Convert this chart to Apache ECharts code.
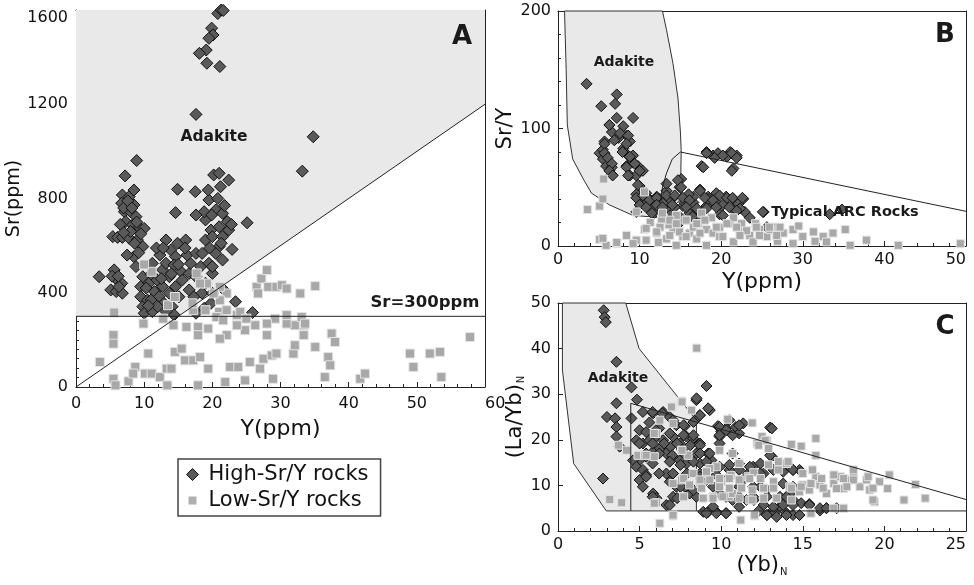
<!DOCTYPE html>
<html><head><meta charset="utf-8">
<script src="https://cdn.jsdelivr.net/npm/echarts@6/dist/echarts.min.js"></script>
<style>html,body{margin:0;padding:0;background:#fff}#c{width:974px;height:585px}</style>
</head><body><div id="c"></div>
<script>
// ---------- Panel A: Sr (ppm) vs Y (ppm) ----------
const highA = [
 [20.8,1585],[21.3,1600],[21.6,1598],[19.9,1523],[20.1,1494],[19.5,1480],[19.1,1430],[18.1,1416],
 [19.2,1374],[21.1,1360],[17.6,1157],[34.8,1062],[33.2,916],
 [8.9,961],[7.2,896],[6.8,815],[6.7,780],[7.8,808],[8.5,836],[7.1,744],[8.0,744],[8.5,773],[8.8,723],
 [7.3,702],[8.3,688],[9.3,678],[10.0,673],[5.4,638],[6.1,635],[6.8,635],[7.8,631],[9.0,624],[9.8,596],
 [8.5,553],[8.8,511],[3.4,468],[5.6,497],[5.8,461],[5.1,412],[5.9,405],[6.7,440],[6.8,398],[6.3,426],
 [9.8,468],[9.5,426],[9.5,383],[9.8,341],[10.0,313],[11.2,320],[10.5,369],[11.5,405],[10.7,440],
 [11.9,454],[12.7,497],[13.2,525],[13.2,624],[13.9,581],[14.6,553],[14.4,518],[14.9,610],[16.1,624],
 [15.4,490],[13.7,468],[12.7,426],[12.2,383],[12.9,355],[13.7,398],[14.6,426],[15.6,454],[16.6,482],
 [16.8,525],[16.3,560],[17.6,567],[18.3,511],[17.6,468],[16.6,412],[15.1,383],[14.1,341],[14.4,306],
 [13.2,320],[12.0,341],[11.0,369],[17.3,383],[18.5,398],[19.0,440],[20.0,482],[19.5,525],[18.5,567],
 [19.0,624],[19.8,666],[19.0,709],[18.8,744],[19.5,794],[19.4,836],[20.2,900],[21.0,907],[21.2,850],
 [22.4,878],[20.5,751],[21.5,737],[22.2,702],[21.0,680],[20.0,638],[21.5,638],[22.4,666],[21.0,596],
 [22.9,584],[20.5,567],[21.5,539],[20.0,511],[25.1,697],[14.9,839],[17.5,829],[14.6,740],[17.6,730],
 [23.4,362],[25.9,316],[21.7,412],[19.8,355],[18.8,334],[17.6,313],[20.0,398],[11.2,525],[12.3,560],
 [11.0,480],[10.3,420],[12.5,460],[14.0,480],[15.0,520],[16.0,590],[11.8,590],[12.8,590],[10.6,345],
 [8.0,660],[7.5,560],[5.3,470],[6.2,470],[7.0,760],[7.6,790],[8.2,760],[8.9,700],[9.5,650],[6.5,690],
 [7.0,655],[8.6,610],[9.2,570],[20.8,800],[21.8,770],[19.9,730],[22.8,690],[21.3,610],[19.6,590]
];
const lowA = [
 [5.6,316],[5.5,220],[5.5,184],[3.5,106],[5.5,35],[5.8,7],[7.7,24],[8.7,85],[8.4,57],[10.1,57],[10.6,142],
 [11.1,57],[12.3,42],[13.3,78],[14.0,78],[13.4,7],[14.5,149],[15.5,163],[16.0,113],[17.2,113],[18.2,127],
 [19.4,78],[17.9,7],[21.9,21],[22.6,85],[23.8,85],[24.8,28],[25.5,106],[27.0,78],[27.5,120],[28.7,134],
 [29.4,142],[28.9,35],[31.9,142],[32.1,177],[35.1,170],[36.5,42],[37.0,127],[37.3,92],[41.7,35],[42.4,57],
 [49.0,142],[49.5,85],[51.9,142],[53.4,149],[53.6,42],[57.8,212],[37.5,227],[38.0,191],[33.4,220],
 [33.4,262],[32.1,262],[30.9,269],[29.2,290],[28.0,269],[28.0,220],[26.3,262],[24.8,241],[23.6,262],
 [23.6,305],[22.1,220],[21.1,205],[19.4,248],[17.9,255],[17.9,220],[16.2,255],[14.3,262],[12.8,290],
 [9.9,269],[13.5,347],[17.2,326],[19.0,326],[21.0,319],[22.1,326],[24.1,319],[22.1,397],[21.1,425],
 [19.2,439],[18.2,439],[17.7,482],[11.1,489],[14.5,382],[26.5,425],[27.2,460],[28.0,496],[28.2,425],
 [29.4,425],[30.2,432],[30.9,418],[32.9,397],[35.1,428],[26.7,397],[21.1,368],[20.2,397],[20.6,297],
 [30.9,305],[33.1,297],[33.6,269],[25.0,290],[21.6,283],[17.1,355],[10.0,520]
];
// field boundaries A
const adakiteFieldA = [[0,300],[15,300],[60,1200],[60,1600],[0,1600]];
const srYLineA = [[0,0],[60,1200]];
const sr300LineA = [[0,300],[60,300]];

// ---------- Panel B: Sr/Y vs Y (ppm) ----------
const highB = [
 [3.5,138],[5.3,119],[7.2,129],[7.0,121],[6.3,103],[7.2,109],[8.0,102],[9.2,109],[6.6,97],[8.4,94],
 [7.4,92],[8.8,89],[5.7,89],[5.1,79],[5.5,74],[5.9,68],[6.6,67],[6.6,61],[8.0,83],[8.6,77],[9.2,71],
 [9.8,68],[8.4,68],[10.4,64],[8.8,60],[9.6,60],[10.0,51],[9.6,44],[10.4,42],[11.2,40],[12.1,42],
 [13.3,47],[15.1,57],[14.9,50],[14.1,41],[15.7,40],[16.6,37],[17.4,48],[17.6,68],[18.2,80],[19.0,77],
 [19.6,79],[21.1,80],[21.9,77],[21.5,66],[18.4,42],[19.4,45],[20.6,42],[21.5,40],[22.7,40],[19.4,37],
 [21.5,31],[22.9,29],[18.2,34],[15.3,34],[13.3,31],[12.1,34],[10.8,37],[10.0,40],[11.8,28],[13.7,37],
 [16.1,28],[17.0,31],[17.4,25],[19.8,27],[23.5,24],[25.2,29],[33.3,27],[34.8,31],[13.3,53],[12.5,40],
 [15.5,37],[18.4,40],[16.6,42],[10.8,45],[9.2,77],[5.5,82],[25.6,16],[15.1,21],[20.7,76],[12.9,36],
 [14.3,33],[16.0,44],[20.2,35],[22.1,36],[11.5,33],
 [6.3,103],[7.6,96],[8.6,94],[6.9,90],[8.4,87],[5.7,87],[5.7,79],[6.1,75],[7.9,80],[8.8,76],[6.6,70],
 [6.3,64],[8.4,67],[9.4,70],[10.0,64],[8.6,60],[6.7,60],[9.8,52],[9.6,41],[10.4,43],[11.2,39],[12.1,41],
 [13.3,43],[14.7,56],[15.1,50],[14.3,43],[15.3,41],[16.1,39],[17.4,47],[18.0,41],[19.0,39],[19.8,43],
 [20.7,41],[21.4,41],[22.6,41],[10.0,35],[10.8,33],[12.1,35],[12.8,33],[14.0,35],[15.7,33],[17.0,32],
 [18.2,32],[19.4,33],[21.0,33],[22.3,32],[9.6,29],[11.5,28],[13.7,26],[14.9,25],[16.5,25],[20.2,26],
 [21.9,30],[18.2,79],[19.2,75],[20.2,77],[21.3,79],[21.9,75],[17.8,67],[21.3,64],[25.1,29]
];
const lowB = [
 [3.6,31],[5.1,34],[5.5,40],[5.6,57],[5.1,5.5],[5.9,0.6],[7.2,2],[8.4,9],[9.6,29],[9.6,5],[10.6,14],
 [10.8,5],[12.3,3],[13.3,6],[14.1,14],[15.3,8],[16.1,11],[17.0,6],[18.2,14],[19.0,11],[19.8,16],[21.1,19],
 [22.3,14],[23.5,9],[24.7,14],[25.6,8],[26.8,16],[27.6,11],[28.8,14],[30.0,8],[31.3,12],[32.5,8],[33.7,11],
 [35.2,14],[35.8,0.6],[37.8,5],[41.7,0.6],[49.3,2],[10.6,46],[12.9,24],[14.5,26],[17.6,28],[18.8,24],
 [15.7,22],[21.5,24],[12.5,16],[14.9,12],[12.1,11],[16.6,16],[19.8,8],[21.5,3.5],[23.9,3.5],[28.8,2],
 [32.9,3.5],[18.2,0.6],[9.2,2],[14.5,0.6],[22.5,19],[26.0,14],[11.3,20],[13.6,18],[17.2,19],[24.2,19],
 [29.5,17],[31.5,4],[26.9,4],
 [12.7,23],[13.7,22],[14.5,19],[15.7,22],[17.0,19],[18.0,22],[19.4,16],[20.7,19],[21.9,16],[23.1,13],
 [24.3,16],[25.9,16],[27.2,16],[17.4,11],[15.7,8],[13.7,9],[12.1,12],[10.8,15],[8.4,9],[5.5,6.5],[7.2,3],
 [20.2,8],[22.3,9],[24.7,9],[26.8,9],[12.8,28]
];
const adakiteFieldB = [[0.8,200],[1.0,150],[1.14,103],[1.8,74],[3.1,57],[4.1,45],[6.3,35],[9.2,26],
 [13,24],[15,40],[15.1,81],[15.0,97],[14.7,126],[14.1,155],[13.3,184],[12.8,200]];
const arcLineB = [[12.6,40],[12.8,50],[13.3,62],[14,74],[15,80],[50,29.5]];

// ---------- Panel C: (La/Yb)N vs (Yb)N ----------
const highC = [
 [2.8,48.4],[2.86,46.9],[2.93,45.8],[3.58,37.1],[4.5,31.5],[4.84,28.8],[3.58,28],[3.0,25],[3.5,24.7],
 [3.58,22.8],[3.58,20.7],[2.76,11.5],[3.78,18.5],[4.5,24.7],[5.2,26.1],[5.83,25.8],[6.44,26.1],[6.85,25],
 [7.25,23.2],[7.77,23],[8.48,28.7],[9.1,31.8],[9.3,26.5],[8.69,25.4],[8.4,24.3],[9.8,23],[9.9,20.7],
 [10.3,22.5],[10.5,24.3],[10.9,22.8],[11.1,21.4],[11.35,23.6],[13.0,22.7],[9.9,19.2],[10.0,21.8],
 [5.0,22.1],[4.8,19.9],[5.2,19.2],[5.6,19.9],[6.03,20.7],[6.44,19.9],[7.05,20.7],[7.46,19.2],[7.87,20.7],
 [8.28,20.3],[8.7,19.2],[5.0,15.5],[5.4,16.3],[5.83,17.4],[6.24,18.1],[6.64,17],[7.05,16.3],[7.46,15.5],
 [7.87,14.8],[8.48,17],[8.7,14.8],[9.2,17],[9.4,15.5],[9.9,14.1],[4.6,15.5],[4.8,14.1],[5.2,13.4],
 [5.0,11.2],[5.4,12.3],[5.83,8.2],[6.03,7.2],[6.64,12.6],[6.85,10.8],[7.05,7.5],[6.64,5.7],[7.25,9.7],
 [7.77,9.7],[8.07,8.2],[8.48,7.5],[8.9,4.2],[9.2,4.2],[9.7,4.2],[10.3,3.9],[10.5,13.4],[10.7,17],
 [11.1,14.8],[11.35,11.2],[11.65,12.6],[11.96,14.1],[12.4,14.8],[12.6,12.6],[13.1,16.3],[13.6,14.1],
 [14.0,14.8],[14.4,13.4],[14.8,13.4],[11.55,6.8],[11.96,7.5],[12.6,5.7],[12.8,3.5],[13.2,4.6],[13.6,5.3],
 [14.0,3.9],[14.4,3.5],[14.8,3.5],[14.4,6.8],[14.9,6.1],[15.4,5.9],[16.05,4.5],[16.45,5.0],[17.07,5.0],
 [10.7,6.8],[10.3,7.5],[11.1,5.3],[9.5,9.7],[9.9,8.2],[11.1,9.7],[11.96,9.7],[12.8,9.0],[13.6,7.5],
 [14.2,8.2],[8.7,12.6],[9.1,11.2],[6.2,22.5],[6.9,18.5],[7.6,17.8],[5.6,23.8],[13.3,4.1],[12.3,4.4],
 [8.49,29.1],[9.2,26.9],[8.7,25.4],[8.3,23.9],[7.7,23.2],[7.05,24.3],[6.4,25.8],[5.8,26.1],[9.9,22.8],
 [10.3,22.1],[11.1,23.2],[10.7,21.0],[9.9,21.0],[13.1,22.5],[5.4,21.7],[6.0,22.1],[6.85,21.4],[7.7,21.0],
 [8.3,21.0],[5.0,19.2],[5.8,19.2],[6.5,19.2],[7.3,19.2],[8.1,18.8],[8.7,18.8],[5.4,17.0],[6.2,17.0],
 [7.0,16.6],[7.7,17.0],[8.7,17.0],[9.3,17.0],[5.8,14.8],[6.85,15.2],[7.5,14.5],[8.3,15.2],[9.1,15.2],
 [10.5,14.5],[11.1,13.4],[11.75,14.1],[12.4,12.6],[13.0,16.6],[13.2,13.4],[13.8,13.0],[14.4,13.4],
 [14.9,13.0],[5.4,11.9],[6.2,12.6],[7.05,12.6],[7.9,12.6],[8.7,11.9],[9.7,12.3],[10.5,11.9],[5.2,9.7],
 [7.5,9.7],[8.3,9.0],[5.8,7.5],[6.85,5.7],[7.3,7.2],[9.1,3.9],[9.7,3.9],[10.3,3.9],[9.5,5.3],[12.8,3.5],
 [13.4,3.1],[14.0,3.5],[14.8,3.5],[13.2,5.3],[13.8,5.7],[14.4,5.7],[15.4,5.7],[16.05,5.0],[16.45,5.0],
 [12.8,7.5],[14.0,7.5],[12.0,6.8],[11.1,7.5],[14.4,9.7],[13.8,10.4],[12.4,9.7]
];
const lowC = [
 [8.5,40.1],[7.56,28.5],[6.99,27.2],[8.18,26.5],[6.24,24.3],[6.03,21.4],[10.4,24.5],[11.9,23.7],
 [12.5,20.7],[12.2,19.2],[12.8,19.9],[14.3,19],[14.9,18.6],[15.8,20.3],[15.8,16.6],[3.7,18.8],[4.2,17.7],
 [3.17,6.9],[3.9,6.2],[4.9,16.6],[5.3,16.6],[5.9,16.3],[5.9,21.4],[6.03,6.2],[6.24,1.7],[7.05,3.3],
 [7.56,17.7],[7.56,11.2],[7.97,16.6],[8.7,10.4],[9.1,12.6],[9.7,14.1],[10.0,10.8],[10.5,7.5],[11.1,14.8],
 [11.2,2.4],[11.65,11.9],[12.06,3.3],[12.6,9.3],[13.2,10.8],[14.0,14.8],[14.2,9.7],[15.0,10.1],[15.4,9.0],
 [15.5,3.9],[15.8,11.9],[16.45,8.2],[16.9,10.4],[17.3,11.9],[17.5,9.3],[17.9,11.2],[18.1,12.6],[18.5,9.7],
 [18.9,11.2],[19.1,9.0],[19.4,6.4],[19.7,10.8],[20.2,9.3],[20.3,12.3],[21.2,6.8],[21.9,10.2],[22.5,7.2],
 [13.4,7.2],[14.3,6.8],[14.8,8.6],[16.9,5.0],[17.5,5.0],[16.05,10.1],[17.07,9.3],[9.5,7.5],[10.7,8.2],
 [11.75,6.8],[8.28,12.6],[9.3,13.7],[13.5,15.2],[10.6,12.2],[12.0,12.8],
 [6.95,27.2],[7.6,28.3],[12.7,19.9],[12.3,18.8],[12.9,18.1],[5.4,16.6],[7.6,17.7],[7.05,23.6],[9.9,17.7],
 [10.7,17.0],[9.1,13.0],[12.9,14.5],[13.5,13.4],[14.1,15.2],[15.0,12.6],[15.6,13.4],[7.7,11.5],[8.7,11.2],
 [9.3,11.2],[9.9,11.5],[10.5,11.5],[11.1,11.2],[11.75,11.5],[12.4,11.5],[7.05,10.4],[8.07,10.1],[8.8,9.4],
 [9.9,9.7],[10.5,9.4],[11.25,9.4],[11.9,9.0],[12.6,9.4],[13.2,9.4],[14.3,9.4],[14.9,9.7],[15.5,10.4],
 [16.15,11.5],[16.9,12.3],[17.5,11.5],[18.1,11.2],[19.3,9.4],[16.25,9.4],[17.7,9.7],[7.7,7.5],[8.9,7.2],
 [9.5,7.2],[10.1,7.5],[11.1,7.2],[11.9,6.8],[12.6,7.2],[5.9,6.1],[7.05,3.5],[12.05,3.5],[15.5,3.9],
 [19.3,6.8],[18.1,13.4],[19.0,11.9]
];
const adakiteFieldC = [[0.27,50],[0.27,35.3],[0.96,14.8],[2.96,4.4],[8.48,4.4],[8.48,24.3],[4.97,40],[4.15,50]];
const arcLineC = [[4.46,4.4],[4.46,28],[25,6.9]];
const arcBaseC = [[8.48,4.4],[25,4.4]];

// ---------- tick settings ----------
const ticksA = {xMax:60, xStep:10, yMax:1600, yStep:400};
const ticksB = {xMax:50, xStep:10, yMax:200, yStep:100};
const ticksC = {xMax:25, xStep:5, yMax:50, yStep:10};

const FONT = '"DejaVu Sans", "Liberation Sans", sans-serif';
const HIGH = 'High-Sr/Y rocks', LOW = 'Low-Sr/Y rocks';
const fill = '#e9e9e9';
const plain = v => String(v);

function valAxis(grid, t, isX, opts) {
  const o = {
    type:'value', gridIndex:grid, min:0, max: isX ? t.xMax : t.yMax, interval: isX ? t.xStep : t.yStep,
    axisLine:{show:true, onZero:false, lineStyle:{color:'#222', width:1}},
    axisTick:{show:true, inside:true, length:5, lineStyle:{color:'#222'}},
    minorTick:{show:true, splitNumber:5, length:3, lineStyle:{color:'#222'}},
    splitLine:{show:false},
    axisLabel:{color:'#111', fontSize:16, fontFamily:FONT, margin:7, formatter:plain},
    nameTextStyle:{color:'#111', fontFamily:FONT},
    nameLocation:'middle'
  };
  return Object.assign(o, opts || {});
}
function frameAxis(grid, t, isX) {
  return {type:'value', gridIndex:grid, min:0, max: isX ? t.xMax : t.yMax, position: isX ? 'top' : 'right',
    axisLine:{show:true, onZero:false, lineStyle:{color:'#222', width:1}}, axisTick:{show:false},
    axisLabel:{show:false}, splitLine:{show:false}};
}
function polySeries(poly, xi, stroke) {
  return {type:'custom', xAxisIndex:xi, yAxisIndex:xi, silent:true, z:1, data:poly, encode:{x:0,y:1},
    renderItem:function(params, api){
      if (params.dataIndex !== 0) return;
      return {type:'polygon', shape:{points:poly.map(p => api.coord(p))},
        style:{fill:fill, stroke: stroke ? '#333' : null, lineWidth:1}};
    }};
}
function lineSeries(pts, xi) {
  return {type:'line', xAxisIndex:xi, yAxisIndex:xi, data:pts, symbol:'none', silent:true, z:6,
    lineStyle:{color:'#222', width:1}};
}
function highSeries(d, xi, size) {
  return {name:HIGH, type:'scatter', xAxisIndex:xi, yAxisIndex:xi, data:d, symbol:'diamond', symbolSize:size, z:3,
    itemStyle:{color:'#5a5a5a', borderColor:'#111', borderWidth:1, opacity:1}};
}
function lowSeries(d, xi, size) {
  return {name:LOW, type:'scatter', xAxisIndex:xi, yAxisIndex:xi, data:d, symbol:'rect', symbolSize:size, z:4,
    itemStyle:{color:'#a8a8a8', borderColor:'#e4e4e4', borderWidth:1, opacity:1}};
}
function txt(x, y, s, font, align) {
  return {type:'text', x:x, y:y, z:10, style:{text:s, font:font, fill:'#1a1a1a',
    align:align||'center', verticalAlign:'middle', textAlign:align||'center', textVerticalAlign:'middle'}};
}

const chart = echarts.init(document.getElementById('c'), null, {renderer:'canvas'});
chart.setOption({
  animation:false,
  backgroundColor:'#fff',
  grid:[
    {left:76, top:10, width:409, height:377},
    {left:558, top:11, width:408, height:235},
    {left:558, top:303, width:408, height:228}
  ],
  xAxis:[
    valAxis(0, ticksA, true, {name:'Y(ppm)', nameGap:31, nameTextStyle:{color:'#111', fontFamily:FONT, fontSize:22},
      axisLabel:{color:'#111', fontSize:16, fontFamily:FONT, margin:9, alignMaxLabel:'left', formatter:plain}}),
    valAxis(1, ticksB, true, {name:'Y(ppm)', nameGap:25, nameTextStyle:{color:'#111', fontFamily:FONT, fontSize:22},
      axisLabel:{color:'#111', fontSize:16, fontFamily:FONT, margin:6, alignMaxLabel:'right', formatter:plain}}),
    valAxis(2, ticksC, true, {name:'(Yb){n|N}', nameGap:24,
      nameTextStyle:{color:'#111', fontFamily:FONT, fontSize:21, rich:{n:{fontSize:10, fontFamily:FONT, color:'#111', padding:[12,0,0,1]}}},
      axisLabel:{color:'#111', fontSize:16, fontFamily:FONT, margin:6, alignMaxLabel:'right', formatter:plain}}),
    frameAxis(0, ticksA, true), frameAxis(1, ticksB, true), frameAxis(2, ticksC, true)
  ],
  yAxis:[
    valAxis(0, ticksA, false, {name:'Sr(ppm)', nameGap:51, nameTextStyle:{color:'#111', fontFamily:FONT, fontSize:19},
      minorTick:{show:true, splitNumber:10, length:3, lineStyle:{color:'#222'}},
      axisLabel:{color:'#111', fontSize:16, fontFamily:FONT, margin:8, verticalAlignMaxLabel:'top', formatter:plain}}),
    valAxis(1, ticksB, false, {name:'Sr/Y', nameGap:42, nameTextStyle:{color:'#111', fontFamily:FONT, fontSize:21}}),
    valAxis(2, ticksC, false, {name:'(La/Yb){n|N}', nameGap:28,
      minorTick:{show:false},
      nameTextStyle:{color:'#111', fontFamily:FONT, fontSize:21, rich:{n:{fontSize:10, fontFamily:FONT, color:'#111', padding:[12,0,0,1]}}}}),
    frameAxis(0, ticksA, false), frameAxis(1, ticksB, false), frameAxis(2, ticksC, false)
  ],
  legend:{
    left:178, top:459, orient:'vertical', padding:[5,12,5,5], itemGap:5, itemWidth:20, itemHeight:12,
    borderColor:'#444', borderWidth:1.5, backgroundColor:'#fff',
    textStyle:{fontFamily:FONT, fontSize:21, color:'#111'},
    data:[
      {name:HIGH, icon:'path://M0,0M20,12M9,0L15,6L9,12L3,6Z', itemStyle:{color:'#5a5a5a', borderColor:'#111', borderWidth:1}},
      {name:LOW, icon:'path://M0,0M20,12M5,2L13,2L13,10L5,10Z', itemStyle:{color:'#b0b0b0', borderColor:'#b0b0b0', borderWidth:0}}
    ]
  },
  series:[
    polySeries(adakiteFieldA, 0, false),
    polySeries(adakiteFieldB, 1, true),
    polySeries(adakiteFieldC, 2, true),
    highSeries(highA, 0, 12), lowSeries(lowA, 0, 9),
    highSeries(highB, 1, 11), lowSeries(lowB, 1, 8),
    highSeries(highC, 2, 11), lowSeries(lowC, 2, 8),
    lineSeries(srYLineA, 0), lineSeries(sr300LineA, 0),
    lineSeries(arcLineB, 1),
    lineSeries(arcLineC, 2), lineSeries(arcBaseC, 2)
  ],
  graphic:[
    txt(462, 37, 'A', 'bold 26px ' + FONT),
    txt(945, 35, 'B', 'bold 26px ' + FONT),
    txt(945, 327, 'C', 'bold 26px ' + FONT),
    txt(214, 137, 'Adakite', 'bold 15.5px ' + FONT),
    txt(425, 303, 'Sr=300ppm', 'bold 16.5px ' + FONT),
    txt(624, 62, 'Adakite', 'bold 14px ' + FONT),
    txt(845, 212, 'Typical ARC Rocks', 'bold 14.5px ' + FONT),
    txt(618, 378, 'Adakite', 'bold 14px ' + FONT)
  ]
});
</script></body></html>
